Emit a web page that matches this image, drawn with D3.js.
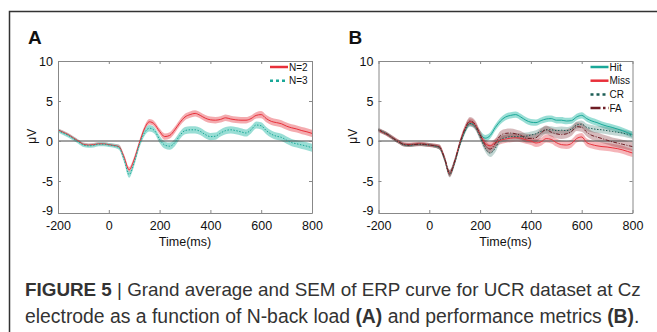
<!DOCTYPE html>
<html>
<head>
<meta charset="utf-8">
<script src="https://cdn.jsdelivr.net/npm/d3@7"></script>
<style>
  body { margin: 0; background: #fff; }
  svg { display: block; font-family: "Liberation Sans", Arial, sans-serif; }
</style>
</head>
<body>
<script>
// time axis (ms), one sample every 20 ms
var times = d3.range(-200, 801, 20);

// panel A: N-back load
var n2 = [1.4,1.1,0.8,0.4,0.0,-0.4,-0.5,-0.45,-0.35,-0.35,-0.45,-0.55,-0.7,-2.0,-3.6,-2.3,-0.3,1.5,2.4,2.1,1.2,0.55,0.7,1.4,2.3,3.0,3.3,3.45,3.2,2.85,2.65,2.6,2.7,2.9,2.75,2.65,2.6,2.6,2.8,3.2,3.3,2.8,2.45,2.3,2.15,1.85,1.65,1.5,1.3,1.15,0.95];
var n3 = [1.3,1.0,0.7,0.3,-0.1,-0.5,-0.6,-0.55,-0.4,-0.4,-0.5,-0.6,-0.8,-2.3,-4.2,-2.7,-0.5,1.0,1.6,1.3,0.2,-0.5,-0.65,-0.2,0.7,1.3,1.4,1.4,1.2,0.8,0.55,0.6,1.0,1.3,1.4,1.3,1.15,1.0,1.4,2.0,1.9,1.3,0.85,0.6,0.45,0.1,-0.2,-0.35,-0.5,-0.65,-0.85];
var semN2 = [0.2,0.2,0.2,0.2,0.2,0.2,0.2,0.2,0.2,0.2,0.2,0.2,0.25,0.3,0.35,0.35,0.35,0.35,0.35,0.35,0.35,0.4,0.4,0.4,0.4,0.4,0.4,0.4,0.4,0.4,0.4,0.4,0.4,0.4,0.4,0.4,0.4,0.4,0.4,0.4,0.45,0.45,0.45,0.45,0.45,0.45,0.45,0.45,0.45,0.45,0.45];
var semN3 = [0.25,0.25,0.25,0.25,0.25,0.25,0.25,0.25,0.25,0.25,0.25,0.25,0.3,0.35,0.4,0.4,0.4,0.4,0.4,0.4,0.45,0.45,0.45,0.45,0.45,0.45,0.45,0.45,0.45,0.45,0.45,0.45,0.45,0.45,0.45,0.45,0.45,0.45,0.45,0.45,0.45,0.45,0.45,0.45,0.45,0.45,0.45,0.45,0.5,0.5,0.5];

// panel B: performance metrics
var hit = [1.4,1.1,0.75,0.3,-0.1,-0.45,-0.5,-0.45,-0.4,-0.45,-0.5,-0.6,-0.8,-2.2,-4.0,-2.6,-0.4,1.3,2.2,1.9,0.9,0.35,0.7,1.7,2.5,3.0,3.2,3.3,3.0,2.6,2.35,2.3,2.55,2.75,2.8,2.6,2.6,2.5,2.55,3.0,3.2,2.8,2.5,2.3,2.05,1.85,1.7,1.5,1.3,1.05,0.8];
var miss = [1.3,1.05,0.7,0.3,-0.1,-0.4,-0.45,-0.4,-0.35,-0.4,-0.5,-0.55,-0.75,-2.2,-4.1,-2.6,-0.3,1.5,2.4,2.0,0.8,-0.3,-0.6,-0.2,0.1,0.25,0.35,0.4,0.35,0.15,0.0,-0.25,-0.1,0.3,0.2,-0.2,-0.45,-0.5,-0.3,0.3,0.5,-0.2,-0.45,-0.6,-0.7,-0.75,-0.85,-0.95,-1.1,-1.3,-1.5];
var cr = [1.35,1.05,0.7,0.25,-0.15,-0.45,-0.55,-0.45,-0.4,-0.45,-0.5,-0.6,-0.8,-2.3,-4.2,-2.7,-0.5,1.2,2.2,1.8,0.5,-0.9,-1.5,-0.9,0.2,0.4,0.55,0.55,0.55,0.6,0.75,0.9,1.2,1.4,1.4,1.3,1.35,1.3,1.5,2.0,2.1,1.7,1.55,1.45,1.4,1.3,1.2,1.1,1.0,0.85,0.7];
var fa = [1.4,1.1,0.75,0.3,-0.1,-0.45,-0.5,-0.45,-0.4,-0.4,-0.5,-0.6,-0.75,-2.1,-4.0,-2.5,-0.3,1.5,2.5,2.1,0.8,-0.5,-1.0,-0.3,0.7,0.95,1.0,0.9,0.7,0.35,0.3,0.4,1.0,1.4,1.1,0.9,0.8,0.9,1.2,1.8,1.7,1.1,0.7,0.5,0.3,0.1,-0.1,-0.25,-0.4,-0.55,-0.7];
var semHit = [0.2,0.2,0.2,0.2,0.2,0.2,0.2,0.2,0.2,0.2,0.2,0.2,0.25,0.3,0.35,0.35,0.35,0.35,0.35,0.35,0.4,0.4,0.4,0.4,0.4,0.4,0.4,0.4,0.4,0.4,0.4,0.4,0.4,0.4,0.4,0.4,0.4,0.4,0.4,0.4,0.4,0.4,0.4,0.4,0.4,0.4,0.4,0.4,0.4,0.4,0.4];
var semMiss = [0.25,0.25,0.25,0.25,0.25,0.25,0.25,0.25,0.25,0.25,0.25,0.25,0.3,0.35,0.4,0.4,0.4,0.4,0.45,0.45,0.45,0.5,0.5,0.5,0.5,0.5,0.5,0.5,0.5,0.5,0.5,0.5,0.5,0.5,0.5,0.5,0.5,0.5,0.5,0.5,0.5,0.5,0.5,0.5,0.5,0.5,0.5,0.5,0.5,0.5,0.5];
var semCr = [0.2,0.2,0.2,0.2,0.2,0.2,0.2,0.2,0.2,0.2,0.2,0.2,0.25,0.3,0.35,0.35,0.35,0.35,0.4,0.4,0.45,0.45,0.5,0.5,0.45,0.45,0.45,0.45,0.45,0.45,0.45,0.45,0.45,0.45,0.45,0.45,0.45,0.45,0.45,0.45,0.45,0.45,0.45,0.45,0.45,0.45,0.45,0.45,0.45,0.45,0.45];
var semFa = [0.25,0.25,0.25,0.25,0.25,0.25,0.25,0.25,0.25,0.25,0.25,0.25,0.3,0.35,0.4,0.4,0.4,0.45,0.5,0.5,0.5,0.55,0.55,0.55,0.55,0.55,0.55,0.55,0.55,0.55,0.55,0.55,0.55,0.55,0.55,0.55,0.55,0.55,0.55,0.55,0.55,0.55,0.55,0.55,0.55,0.55,0.55,0.55,0.55,0.55,0.55];

var xTicks = [-200, 0, 200, 400, 600, 800];
var yTicks = [-9, -5, 0, 5, 10];

var panelA = [
  {name: "N=2", mean: n2, sem: semN2, line: "#e8303a", band: "#f29ca1", bandOp: 0.85, dash: null},
  {name: "N=3", mean: n3, sem: semN3, line: "#1aa898", band: "#7fd6cb", bandOp: 0.8, dash: "1.5,1.5"}
];
var panelB = [
  {name: "Hit", mean: hit, sem: semHit, line: "#1aa898", band: "#7fd6cb", bandOp: 0.8, dash: null},
  {name: "Miss", mean: miss, sem: semMiss, line: "#e8303a", band: "#f29ca1", bandOp: 0.75, dash: null},
  {name: "CR", mean: cr, sem: semCr, line: "#1d5e56", band: "#4f8a82", bandOp: 0.35, dash: "1.5,1.5"},
  {name: "FA", mean: fa, sem: semFa, line: "#6e1d24", band: "#8a3a40", bandOp: 0.35, dash: "4,1.5,1,1.5"}
];

var svg = d3.select("body").append("svg")
  .attr("width", 657)
  .attr("height", 332)

// outer frame (left + top)
svg.append("path")
  .attr("d", "M9.5,332V11.5H657")
  .attr("fill", "none")
  .attr("stroke", "#333")
  .attr("stroke-width", 1.5)

var y = d3.scaleLinear().domain([-9, 10]).range([213, 61]);
var fmt = function(d) { return String(d); };   // plain hyphen minus like the original

function drawPanel(left, letter, series) {
  var x = d3.scaleLinear().domain([-200, 800]).range([left, left + 254]);
  var g = svg.append("g");

  g.append("text")
    .attr("x", left - 30)
    .attr("y", 44)
    .attr("font-size", 19)
    .attr("font-weight", "bold")
    .attr("fill", "#111")
    .text(letter)

  // SEM bands
  var area = d3.area()
    .x(function(d, i) { return x(times[i]); })
    .y0(function(d) { return y(d[0]); })
    .y1(function(d) { return y(d[1]); })
    .curve(d3.curveMonotoneX);

  series.forEach(function(s) {
    var pts = s.mean.map(function(m, i) { return [m - s.sem[i], m + s.sem[i]]; });
    g.append("path")
      .attr("d", area(pts))
      .attr("fill", s.band)
      .attr("opacity", s.bandOp)
  });

  // zero line
  g.append("line")
    .attr("x1", x(-200)).attr("x2", x(800))
    .attr("y1", y(0)).attr("y2", y(0))
    .attr("stroke", "#444")
    .attr("stroke-width", 1)

  var line = d3.line()
    .x(function(d, i) { return x(times[i]); })
    .y(function(d) { return y(d); })
    .curve(d3.curveMonotoneX);

  series.forEach(function(s) {
    g.append("path")
      .attr("d", line(s.mean))
      .attr("fill", "none")
      .attr("stroke", s.line)
      .attr("stroke-width", 1)
      .attr("stroke-dasharray", s.dash)
  });

  // box with inward ticks on all sides
  var bottom = g.append("g").attr("transform", "translate(0," + y(-9) + ")")
    .call(d3.axisBottom(x).tickValues(xTicks).tickFormat(fmt).tickSizeInner(-3).tickSizeOuter(0).tickPadding(8));
  var top = g.append("g").attr("transform", "translate(0," + y(10) + ")")
    .call(d3.axisTop(x).tickValues(xTicks).tickSizeInner(-3).tickSizeOuter(0).tickFormat(""));
  var leftAx = g.append("g").attr("transform", "translate(" + x(-200) + ",0)")
    .call(d3.axisLeft(y).tickValues(yTicks).tickFormat(fmt).tickSizeInner(-3).tickSizeOuter(0).tickPadding(5));
  var rightAx = g.append("g").attr("transform", "translate(" + x(800) + ",0)")
    .call(d3.axisRight(y).tickValues(yTicks).tickSizeInner(-3).tickSizeOuter(0).tickFormat(""));

  [bottom, top, leftAx, rightAx].forEach(function(a) {
    a.select(".domain").attr("stroke", "#888");
    a.selectAll(".tick line").attr("stroke", "#888");
    a.selectAll(".tick text")
      .attr("font-family", "Liberation Sans, Arial, sans-serif")
      .attr("font-size", 12.5)
      .attr("fill", "#111");
  });
  // lift the lowest y label a little so it clears the x labels
  leftAx.selectAll(".tick").filter(function(d) { return d == -9; })
    .select("text").attr("dy", "0.1em");

  g.append("text")
    .attr("x", x(300))
    .attr("y", 246)
    .attr("text-anchor", "middle")
    .attr("font-size", 12.5)
    .attr("fill", "#111")
    .text("Time(ms)")

  g.append("text")
    .attr("transform", "translate(" + (left - 22) + "," + y(0.6) + ") rotate(-90)")
    .attr("text-anchor", "middle")
    .attr("font-size", 12)
    .attr("fill", "#111")
    .text("\u03bcV")

  // legend
  var lg = g.append("g");
  series.forEach(function(s, i) {
    var ly = 67 + i * 13.7;
    lg.append("line")
      .attr("x1", left + 212).attr("x2", left + 230)
      .attr("y1", ly).attr("y2", ly)
      .attr("stroke", s.line)
      .attr("stroke-width", 2.5)
      .attr("stroke-dasharray", s.dash == null ? null : (s.name == "FA" ? "10,2.5,2.5,2.5" : "3,3"))
    lg.append("text")
      .attr("x", left + 231)
      .attr("y", ly + 3.5)
      .attr("font-size", 10)
      .attr("fill", "#111")
      .text(s.name)
  });
}

drawPanel(58, "A", panelA);
drawPanel(378.5, "B", panelB);

// caption, each line sized to span the same width as in the figure
var cap = svg.append("g").attr("fill", "#333");
var c1 = cap.append("text").attr("x", 25).attr("y", 296).attr("font-size", 18);
c1.append("tspan").attr("font-weight", "bold").text("FIGURE 5");
c1.append("tspan").text(" | Grand average and SEM of ERP curve for UCR dataset at Cz");
var c2 = cap.append("text").attr("x", 25).attr("y", 323).attr("font-size", 18);
c2.append("tspan").text("electrode as a function of N-back load ");
c2.append("tspan").attr("font-weight", "bold").text("(A)");
c2.append("tspan").text(" and performance metrics ");
c2.append("tspan").attr("font-weight", "bold").text("(B)");
c2.append("tspan").text(".");

[[c1, 616], [c2, 615]].forEach(function(p) {
  var w = p[0].node().getComputedTextLength();
  p[0].attr("font-size", 18 * p[1] / w);
});
</script>
</body>
</html>
